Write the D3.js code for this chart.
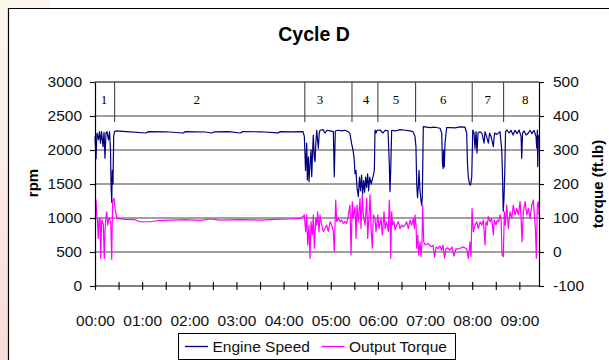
<!DOCTYPE html>
<html><head><meta charset="utf-8">
<script src="https://cdn.jsdelivr.net/npm/d3@7"></script>
<style>body{margin:0;background:#fff;}svg{display:block;}</style>
</head><body><svg id="c" width="609" height="360"></svg>
<script>
// ---- data ----
const chartTitle = "Cycle D";
const leftTicks = [0,500,1000,1500,2000,2500,3000];
const rightTicks = [-100,0,100,200,300,400,500];
const timeTicks = [0,30,60,90,120,150,180,210,240,270,300,330,360,390,420,450,480,510,540];
const timeLabels = ["00:00","01:00","02:00","03:00","04:00","05:00","06:00","07:00","08:00","09:00"];
const phaseNames = ["1","2","3","4","5","6","7","8"];
const phaseBounds = [25,267,327,360,408,480,520];
const phaseLabelTimes = [11.5,129.4,286.3,344.9,383,443.3,499.7,547.6];
const seriesNames = ["Engine Speed","Output Torque"];

const engineSpeed = [[0,2200],[1.3,1870],[2.5,2250],[4.5,2150],[5.7,2270],[7,2100],[8.3,2270],[10.2,2050],[11.5,2260],[12.7,1880],[14,2250],[15.3,2270],[17.2,2150],[18.5,2270],[19.7,2000],[20.4,1500],[21.3,1230],[22,1700],[22.9,1500],[23.8,2200],[24.8,2270],[26.7,2280],
[40,2270],[65,2250],[68,2270],[90,2268],[112,2250],[115,2270],[140,2265],[149,2250],[152,2268],[170,2270],[185,2250],[188,2270],[210,2268],[233,2252],[236,2270],[250,2268],[264.7,2270],
[266.4,2200],[267.9,1700],[269.4,2100],[270.2,1560],[271.5,1900],[272.3,1534],[273.6,1780],[274.9,2000],[275.8,1607],[276.8,1950],[277.8,2220],[279,1900],[280,1830],[281,2100],[282.2,2290],[283.2,2150],[284.2,2025],[285.4,2250],[286.3,2290],[290.2,2300],[292.7,2250],[295.2,2290],[299.1,2280],[303.3,2270],[304.5,1607],[305.8,2280],[309.2,2290],[314.3,2280],[318.1,2290],[322,2270],[324.5,2240],[326.4,2100],[328.3,2000],[329.6,1900],[330.9,1650],[332.1,1700],[333.4,1450],[335.1,1313],[336.6,1600],[337.9,1400],[339.2,1630],[340.5,1350],[341.8,1550],[343.1,1380],[344.4,1600],[345.6,1450],[346.9,1650],[348.2,1400],[349.5,1600],[351.4,1500],[354.2,1630],[355.5,1700],[356.3,2294],[357.6,2250],[358.9,2290],
[360.2,2290],[362.7,2294],[366.5,2250],[369.1,2290],[372.9,2280],[374.5,1800],[375.4,1387],[376.3,1700],[377.5,2290],[381.8,2280],[388.1,2300],[394.5,2290],[400.9,2280],[404.7,2270],[407.2,2200],[408.4,2050],[409.4,1500],[410.4,1300],[411.4,1450],[412.3,1700],[413.6,1400],[414.9,1250],[415.7,1190],[416.5,1300],[417.8,2343],
[420,2340],[426.3,2330],[432.7,2335],[439,2320],[441.2,2250],[442.2,1800],[442.9,1730],[443.8,2000],[444.5,1750],[445.4,2100],[447.5,2330],[451.8,2330],[458.1,2325],[464.5,2340],[470.9,2335],[473,2250],[474,1800],[475.1,1600],[476.6,1500],[477.9,1485],[479.4,1600],[480.7,2294],
[482.3,2250],[483.6,2025],[484.9,2270],[486.1,1956],[487.4,2250],[490,2270],[492.5,2240],[495.1,2100],[496.3,2270],[498.2,2200],[500.6,2100],[502.1,2250],[504,2200],[506.9,2050],[508.4,2250],[511.6,2230],[515.4,2270],[517.6,2000],[518.6,1600],[519.5,1100],[520.5,1300],[521.5,1700],[522.4,2270],
[524.3,2294],[526.9,2250],[529.4,2290],[532,2220],[534.5,2290],[537.1,2240],[539.6,2294],[542.2,2200],[543,1878],[544.1,2250],[546,2280],[548.6,2220],[551.5,2250],[553.6,2290],[556.1,2240],[558.7,2290],[561.2,2200],[562.1,2030],[562.9,2294],[563.4,1755],[564.2,2200],[565,2220]];

const outputTorque = [[0,150],[1.3,153],[2.2,109],[3.2,90],[4.2,40],[5.1,95],[6.4,100],[7.3,-19],[8.3,80],[8.9,95],[10.6,80],[11.8,-19],[12.7,60],[13.6,95],[14.9,118],[16.2,79],[17.8,100],[20,90],[21.3,-22],[21.9,80],[22.5,148],[24.2,158],[25.5,129],[27.6,99],
[38.2,96],[50.9,95],[56.6,89],[70,89],[78.9,92],[95.4,94],[114.5,95],[133.6,93],[146.3,97],[159,94],[184.5,95],[210,94],[229,96],[248,97],[260.9,99],[264.7,104],
[266.4,109],[268.1,60],[269.4,109],[270.7,21],[272.3,79],[273.6,-19],[274.9,89],[276.5,50],[277.8,109],[279.1,11],[280.9,99],[282.1,79],[283.4,118],[285.1,60],[286.3,109],[288.5,79],[290.5,60],[292.7,69],[294.8,79],[296.9,60],[299.1,89],[301.2,79],[303.3,60],[304.5,1],[306.3,153],[307.6,89],[309.6,99],[311.8,89],[313.9,94],[316,84],[318.1,89],[320.3,84],[322.4,109],[324.5,138],[325.8,-9],[327.4,148],[328.7,99],[330.9,133],[332.2,40],[333.4,138],[335.1,89],[337.2,158],[338.5,69],[340.2,168],[341.4,109],[343.6,79],[345.8,158],[347,40],[348.7,109],[350,168],[351.3,69],[352.9,11],[354.2,109],[356.3,99],[357.6,60],[359.8,109],[361.4,69],[364,99],[365.6,50],
[367.8,118],[369.1,69],[371.2,89],[373.3,60],[374.5,153],[375.4,109],[376.3,-19],[377.5,118],[378.8,79],[380.5,89],[381.8,65],[383.9,79],[386,89],[388.1,69],[390.3,79],[392.3,74],[394.5,79],[396.6,89],[398.7,69],[400.9,94],[403,79],[405.1,99],[406.3,69],[407.2,109],[408.5,79],[409.4,11],[410.7,50],[411.9,-9],[413.6,30],[414.9,-14],[416.1,30],[417,138],[418.3,30],[420,21],
[423.8,25],[427.6,15],[430.2,20],[432.1,-15],[434,15],[436.5,10],[439,18],[441,5],[442.9,20],[444.8,-18],[446.7,10],[449.2,12],[451.8,5],[454.3,15],[456.8,-12],[459.4,10],[461.9,8],[464.5,11],[468.7,15],[473,9],[475.1,-19],[477.2,30],[478.5,-14],[479.8,128],
[481.4,60],[483.6,79],[485.8,89],[487.8,69],[490,89],[492.2,79],[494.2,94],[496.3,21],[497.6,89],[499.2,79],[500.5,104],[502.7,89],[504.8,99],[506.9,50],[508.1,94],[510.3,79],[511.9,94],[513.7,89],[515.4,109],[516.7,99],[518,-9],[519.6,-14],[520.9,118],
[522.2,79],[523.9,138],[526,69],[528.1,118],[530.3,99],[532.3,138],[534.5,109],[536.7,128],[538.7,109],[540.9,148],[542.2,99],[543.4,30],[545.1,118],[547.3,148],[549.4,109],[551.5,128],[553.6,99],[555.8,138],[557.8,153],[559.1,109],[560.4,69],[561.6,-19],[562.9,138],[564.2,148],[565,109]];

// ---- layout ----
const svg = d3.select("#c");
const L = 95, R = 539, T = 82, B = 286;
const FONT = "'Liberation Sans', Arial, sans-serif";
const x = d3.scaleLinear().domain([0,565]).range([L,R]);
const yL = d3.scaleLinear().domain([0,3000]).range([B,T]);
const yR = d3.scaleLinear().domain([-100,500]).range([B,T]);

// slide background outside chart frame
const defs = svg.append("defs");
const g1 = defs.append("linearGradient").attr("id","side").attr("x1",0).attr("y1",0).attr("x2",0).attr("y2",1);
g1.append("stop").attr("offset","0").attr("stop-color","#fbf6ea");
g1.append("stop").attr("offset","0.4").attr("stop-color","#fbefe6");
g1.append("stop").attr("offset","1").attr("stop-color","#f6dcd6");
svg.append("rect").attr("x",0).attr("y",0).attr("width",8).attr("height",360).attr("fill","url(#side)");
svg.append("rect").attr("x",0).attr("y",0).attr("width",50).attr("height",8).attr("fill","#fbf6ea");
svg.append("path").attr("d","M8.5,360 V8.5 H609").attr("fill","none").attr("stroke","#000").attr("stroke-width",1.2);

// title
svg.append("text").attr("x",314).attr("y",41).attr("text-anchor","middle")
  .attr("font-family",FONT).attr("font-weight","bold").attr("font-size",19.5).text(chartTitle);

// gridlines
svg.append("g").selectAll("line").data(leftTicks.filter(v=>v>0)).join("line")
  .attr("x1",L).attr("x2",R).attr("y1",d=>yL(d)).attr("y2",d=>yL(d))
  .attr("stroke","#808080").attr("stroke-width",1.3);

// phase band dividers and labels
svg.append("g").selectAll("line").data(phaseBounds).join("line")
  .attr("x1",d=>x(d)).attr("x2",d=>x(d)).attr("y1",yL(3000)).attr("y2",yL(2410))
  .attr("stroke","#333").attr("stroke-width",1);
svg.append("g").selectAll("text").data(phaseNames).join("text")
  .attr("x",(d,i)=>x(phaseLabelTimes[i])).attr("y",yL(2745)).attr("dy","0.35em")
  .attr("text-anchor","middle").attr("font-family","'Liberation Serif', 'Times New Roman', serif")
  .attr("font-size",13).text(d=>d);

// series
const clip = defs.append("clipPath").attr("id","pl").append("rect").attr("x",L).attr("y",T).attr("width",R-L).attr("height",B-T);
const lineL = d3.line().x(d=>x(d[0])).y(d=>yL(d[1]));
const lineR = d3.line().x(d=>x(d[0])).y(d=>yR(d[1]));
svg.append("path").datum(outputTorque).attr("d",lineR).attr("fill","none").attr("stroke","#ff00ff").attr("stroke-width",1.2).attr("stroke-linejoin","round");
svg.append("path").datum(engineSpeed).attr("d",lineL).attr("fill","none").attr("stroke","#000080").attr("stroke-width",1.2).attr("stroke-linejoin","round");

// axes
function styleAxis(g){
  g.select(".domain").attr("stroke","#000").attr("stroke-width",1.2);
  g.selectAll(".tick line").attr("stroke","#000").attr("stroke-width",1.1);
  g.selectAll("text").attr("font-family",FONT).attr("font-size",15.5).attr("fill","#111");
}
const axL = svg.append("g").attr("transform",`translate(${L},0)`)
  .call(d3.axisLeft(yL).tickValues(leftTicks).tickSize(5).tickPadding(8).tickSizeOuter(0).tickFormat(d3.format("d")));
styleAxis(axL);
const axR = svg.append("g").attr("transform",`translate(${R},0)`)
  .call(d3.axisRight(yR).tickValues(rightTicks).tickSize(5).tickPadding(9).tickSizeOuter(0).tickFormat(d3.format("d")));
styleAxis(axR);
axR.selectAll("text").text(d=>d<0?"-"+Math.abs(d):String(d));
const axB = svg.append("g").attr("transform",`translate(0,${B})`)
  .call(d3.axisBottom(x).tickValues(timeTicks).tickSize(4).tickSizeOuter(0)
    .tickFormat(d=> d%60===0 ? timeLabels[d/60] : ""));
styleAxis(axB);
axB.select(".domain").attr("d",`M${L},0H${R}`);
axB.selectAll(".tick line").attr("y1",-4);
axB.selectAll(".tick text").attr("y",40).attr("dy",0);

// top border of plot
svg.append("line").attr("x1",L).attr("x2",R).attr("y1",T).attr("y2",T).attr("stroke","#555").attr("stroke-width",1.2);

// axis titles
svg.append("text").attr("transform","translate(33,183) rotate(-90)").attr("text-anchor","middle").attr("dy","0.35em")
  .attr("font-family",FONT).attr("font-weight","bold").attr("font-size",15).text("rpm");
svg.append("text").attr("transform","translate(598,184) rotate(-90)").attr("text-anchor","middle").attr("dy","0.35em")
  .attr("font-family",FONT).attr("font-weight","bold").attr("font-size",15).text("torque (ft.lb)");

// legend
const lg = svg.append("g");
lg.append("rect").attr("x",178.5).attr("y",333.5).attr("width",277).attr("height",26).attr("fill","#fff").attr("stroke","#000").attr("stroke-width",1);
const legItems = [{name:seriesNames[0],color:"#000080",x0:185,tx:212.5},{name:seriesNames[1],color:"#ff00ff",x0:321.5,tx:349}];
legItems.forEach(it=>{
  lg.append("line").attr("x1",it.x0).attr("x2",it.x0+23).attr("y1",346.5).attr("y2",346.5).attr("stroke",it.color).attr("stroke-width",1.3);
  lg.append("text").attr("x",it.tx).attr("y",346.5).attr("dy","0.35em").attr("font-family",FONT).attr("font-size",15.5).attr("fill","#111").text(it.name);
});
</script></body></html>
